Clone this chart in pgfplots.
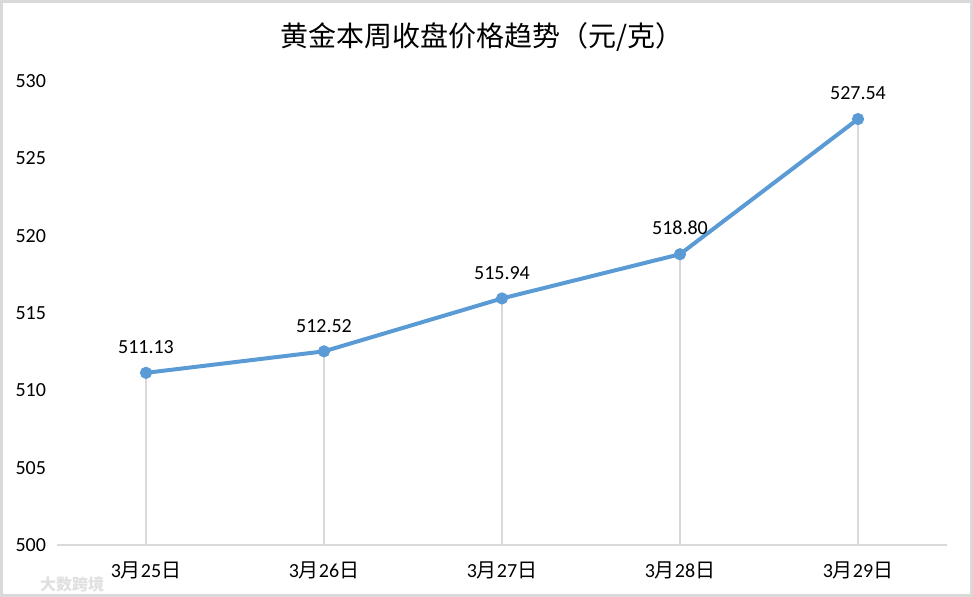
\documentclass[border=0pt]{standalone}
\usepackage{fontspec}
\setmainfont{Carlito}
\newfontfamily\cjk{Noto Sans CJK SC}
\usepackage{pgfplots}
\pgfplotsset{compat=1.18}
\definecolor{lineblue}{HTML}{5B9BD5}
\definecolor{lgray}{HTML}{D9D9D9}
\begin{document}
\begin{tikzpicture}
\path[use as bounding box] (0,0) rectangle (486.5pt,298.5pt);
\draw[lgray, line width=1.5pt] (0.75pt,0.75pt) rectangle (485.75pt,297.75pt);
\node[font=\cjk\fontsize{14}{16}\selectfont] at (241pt,280pt) {黄金本周收盘价格趋势（元/克）};
\node[font=\cjk\bfseries\fontsize{8}{9}\selectfont, text=black!12, inner sep=0pt] at (36pt,6.5pt) {大数跨境};
\begin{axis}[
  at={(28.5pt,26pt)}, anchor=south west,
  scale only axis, width=445pt, height=232pt,
  xmin=-0.5, xmax=4.5, ymin=500, ymax=530,
  ytick={500,505,...,530},
  xtick={0,1,2,3,4},
  xticklabels={3{\cjk 月}25{\cjk 日},3{\cjk 月}26{\cjk 日},3{\cjk 月}27{\cjk 日},3{\cjk 月}28{\cjk 日},3{\cjk 月}29{\cjk 日}},
  axis x line=bottom, axis y line=left,
  x axis line style={lgray, line width=1pt, -},
  y axis line style={draw=none},
  major tick length=0pt,
  tick style={draw=none},
  /pgf/number format/assume math mode=true,
  ticklabel style={font=\fontsize{10}{12}\selectfont, text=black},
  yticklabel style={xshift=-2pt},
  xticklabel style={yshift=-5pt},
  clip=true,
]
\addplot[lgray, line width=1pt, ycomb, mark=none] coordinates {(0,511.13) (1,512.52) (2,515.94) (3,518.80) (4,527.54)};
\addplot[lineblue, line width=2pt, mark=*, mark size=2.8pt, mark options={fill=lineblue, draw=lineblue, line width=0.5pt},
  nodes near coords,
  nodes near coords style={font=\fontsize{10}{12}\selectfont, text=black, anchor=south, yshift=6pt,
    /pgf/number format/.cd, fixed, fixed zerofill, precision=2, assume math mode=true},
] coordinates {(0,511.13) (1,512.52) (2,515.94) (3,518.80) (4,527.54)};
\end{axis}
\end{tikzpicture}
\end{document}
